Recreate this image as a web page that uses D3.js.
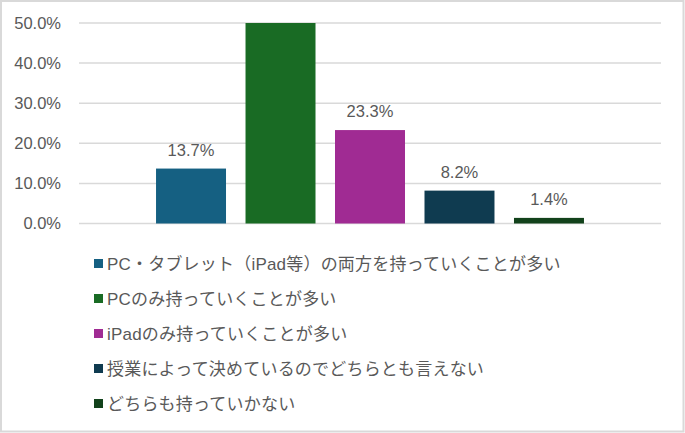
<!DOCTYPE html>
<html>
<head>
<meta charset="utf-8">
<script src="https://cdn.jsdelivr.net/npm/d3@7"></script>
<style>
  body { margin: 0; background: #fff; }
  text { fill: #595959; }
</style>
</head>
<body>
<div id="chart_div"></div>
<script>
// one category, five answers
var series_names = [
    'PC・タブレット（iPad等）の両方を持っていくことが多い',
    'PCのみ持っていくことが多い',
    'iPadのみ持っていくことが多い',
    '授業によって決めているのでどちらとも言えない',
    'どちらも持っていかない'
];
var series_values = [13.7, 53.4, 23.3, 8.2, 1.4];
var series_colors = ['#156082', '#196b24', '#a02b93', '#0f3b50', '#12421b'];
var y_ticks = [0, 10, 20, 30, 40, 50];

function draw_chart() {
    var width = 685, height = 433;
    var plot = {left: 79, right: 661, top: 23, bottom: 223.5};

    var svg = d3.select('#chart_div')
        .append('svg')
        .attr('width', width)
        .attr('height', height);

    // chart border
    svg.append('rect')
        .attr('x', 1).attr('y', 1)
        .attr('width', width - 2.5).attr('height', height - 2.5)
        .attr('fill', '#fff')
        .attr('stroke', '#d9d9d9')
        .attr('stroke-width', 2);

    var y = d3.scaleLinear()
        .domain([0, 50])
        .range([plot.bottom, plot.top])
        .clamp(true);

    var x0 = d3.scaleBand()
        .domain(['all'])
        .range([plot.left, plot.right])
        .paddingInner(0)
        .paddingOuter(0.18);

    var x1 = d3.scaleBand()
        .domain(d3.range(series_values.length))
        .range([0, x0.bandwidth()])
        .paddingInner(0.218)
        .paddingOuter(0);

    // gridlines
    svg.append('g')
        .selectAll('line')
        .data(y_ticks)
        .enter()
        .append('line')
        .attr('x1', plot.left).attr('x2', plot.right)
        .attr('y1', d => y(d)).attr('y2', d => y(d))
        .attr('stroke', '#d9d9d9')
        .attr('stroke-width', 1.5);

    // y axis labels
    var y_axis = d3.axisLeft(y)
        .tickValues(y_ticks)
        .tickFormat(d => d.toFixed(1) + '%')
        .tickSize(0)
        .tickPadding(0);

    var axis_g = svg.append('g')
        .attr('transform', 'translate(61,0)')
        .call(y_axis);
    axis_g.select('.domain').remove();
    axis_g.selectAll('text')
        .style('font-family', '"Liberation Sans", Arial, sans-serif')
        .style('font-size', '16.5px')
        .attr('fill', '#595959');

    // bars
    var bar_g = svg.append('g')
        .attr('transform', `translate(${x0('all')},0)`);

    bar_g.selectAll('rect')
        .data(series_values)
        .enter()
        .append('rect')
        .attr('x', (d, i) => x1(i))
        .attr('width', x1.bandwidth())
        .attr('y', d => y(d))
        .attr('height', d => y(0) - y(d))
        .attr('fill', (d, i) => series_colors[i]);

    // data labels (hidden when the value runs past the axis)
    bar_g.selectAll('text')
        .data(series_values.filter(d => d <= 50).map(d => series_values.indexOf(d)))
        .enter()
        .append('text')
        .attr('x', i => x1(i) + x1.bandwidth() / 2)
        .attr('y', i => y(series_values[i]) - 13)
        .attr('text-anchor', 'middle')
        .style('font-family', '"Liberation Sans", Arial, sans-serif')
        .style('font-size', '16.5px')
        .text(i => series_values[i].toFixed(1) + '%');

    // legend
    var legend = svg.append('g')
        .attr('transform', 'translate(94,263.5)');

    var rows = legend.selectAll('g')
        .data(series_names)
        .enter()
        .append('g')
        .attr('transform', (d, i) => `translate(0,${i * 35})`);

    rows.append('rect')
        .attr('x', 0).attr('y', -4.5)
        .attr('width', 9).attr('height', 9)
        .attr('fill', (d, i) => series_colors[i]);

    rows.append('text')
        .attr('x', 13)
        .attr('y', 0)
        .attr('dy', '0.36em')
        .style('font-family', '"Liberation Sans", "Noto Sans CJK JP", sans-serif')
        .style('font-size', '17px')
        .style('letter-spacing', '0.2px')
        .text(d => d);
}

draw_chart();
</script>
</body>
</html>
